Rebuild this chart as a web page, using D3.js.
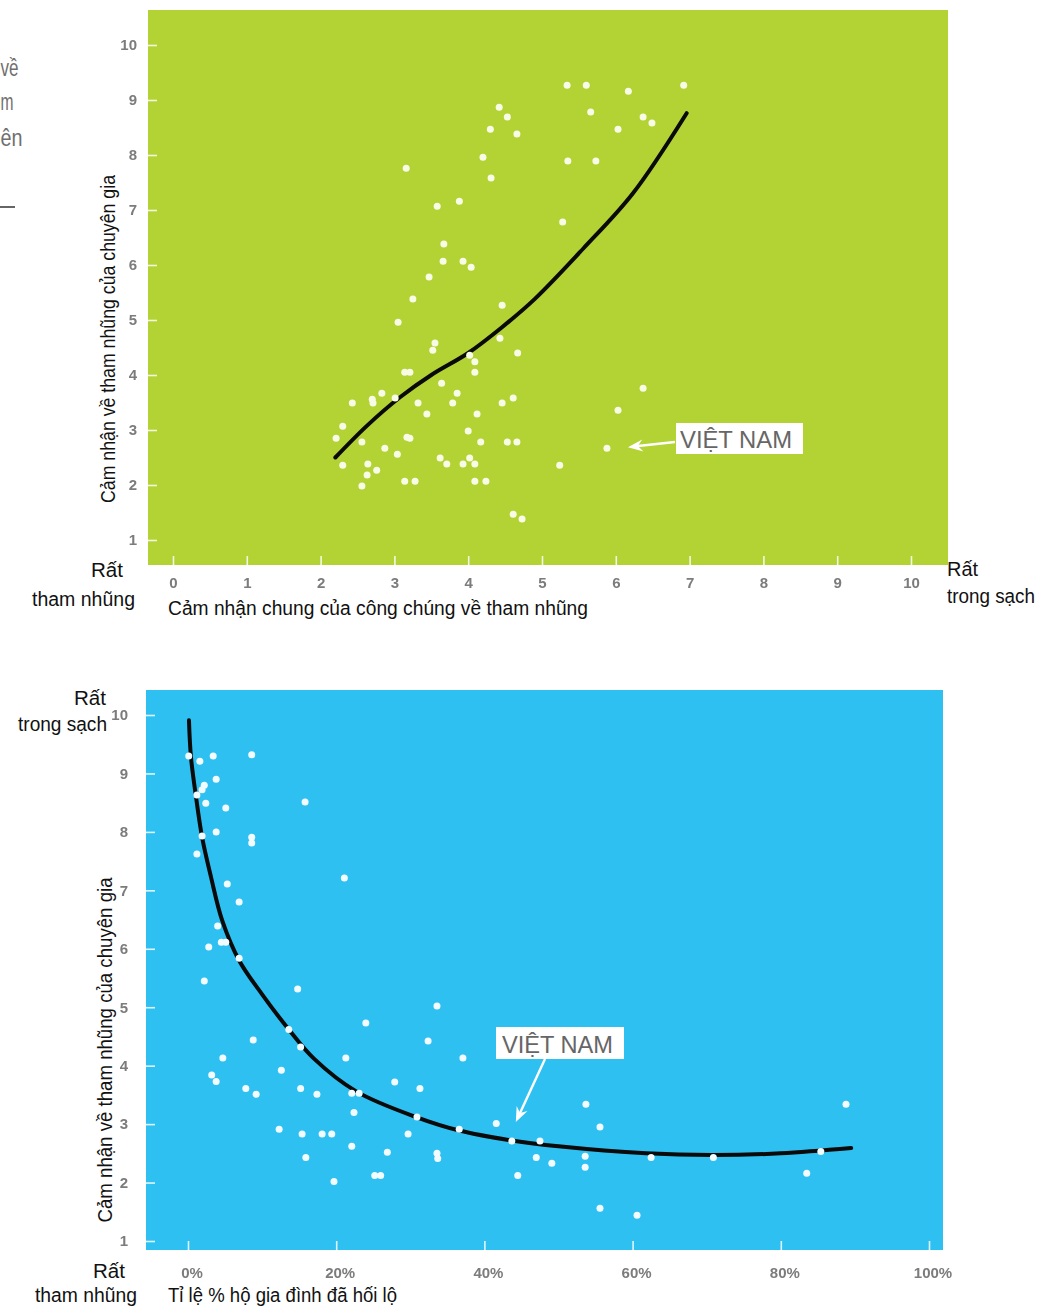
<!DOCTYPE html>
<html>
<head>
<meta charset="utf-8">
<script src="https://cdn.jsdelivr.net/npm/d3@7"></script>
<style>
  html, body { margin: 0; padding: 0; background: #fff; }
  svg { display: block; }
</style>
</head>
<body>
<svg id="chart" width="1058" height="1310"></svg>
<script>
// ---------- data ----------
// Panel 1: public perception of corruption (x) vs expert perception (y)
const perceptionTicks = [0, 1, 2, 3, 4, 5, 6, 7, 8, 9, 10];
const expertTicks = [1, 2, 3, 4, 5, 6, 7, 8, 9, 10];
const publicVsExpert = [
  [5.34, 9.27], [5.60, 9.27], [6.17, 9.16], [6.92, 9.27], [5.66, 8.78], [4.42, 8.87],
  [4.53, 8.69], [4.30, 8.47], [4.66, 8.38], [6.37, 8.69], [6.49, 8.58], [6.03, 8.47],
  [4.20, 7.96], [4.31, 7.58], [5.35, 7.89], [5.73, 7.89], [3.16, 7.76], [3.58, 7.07],
  [3.88, 7.16], [5.28, 6.78], [3.67, 6.38], [3.66, 6.07], [3.93, 6.07], [4.04, 5.96],
  [3.47, 5.78], [3.25, 5.38], [4.46, 5.27], [3.05, 4.96], [3.55, 4.58], [3.52, 4.45],
  [4.43, 4.67], [4.67, 4.40], [4.02, 4.36], [4.09, 4.24], [4.09, 4.05], [3.14, 4.05],
  [3.21, 4.05], [3.64, 3.85], [3.85, 3.67], [2.83, 3.67], [2.70, 3.56], [2.71, 3.49],
  [3.01, 3.58], [2.43, 3.49], [3.32, 3.49], [3.79, 3.49], [4.46, 3.49], [4.61, 3.58],
  [3.44, 3.29], [4.12, 3.29], [2.30, 3.07], [4.00, 2.98], [2.21, 2.85], [2.56, 2.78],
  [3.17, 2.87], [3.21, 2.85], [4.17, 2.78], [4.53, 2.78], [4.66, 2.78], [2.87, 2.67],
  [3.04, 2.56], [2.30, 2.36], [2.64, 2.38], [2.76, 2.27], [2.63, 2.18], [2.56, 1.98],
  [3.62, 2.49], [3.71, 2.38], [3.93, 2.38], [4.02, 2.49], [4.09, 2.38], [3.14, 2.07],
  [3.28, 2.07], [4.09, 2.07], [4.24, 2.07], [4.61, 1.47], [4.73, 1.38], [5.24, 2.36],
  [6.37, 3.76], [6.03, 3.36]
];
const vietnamPublic = [5.88, 2.67];
const publicFit = [
  [2.20, 2.50], [2.63, 3.08], [3.08, 3.60], [3.50, 4.00], [4.00, 4.40], [4.45, 4.86],
  [4.90, 5.38], [5.56, 6.30], [6.23, 7.30], [6.96, 8.76]
];

// Panel 2: share of households paying bribes (x, %) vs expert perception (y)
const bribeTicks = [0, 20, 40, 60, 80, 100];
const bribeVsExpert = [
  [0.1, 9.30], [1.6, 9.21], [3.4, 9.30], [8.6, 9.32], [3.8, 8.90], [2.2, 8.80],
  [1.9, 8.72], [1.2, 8.63], [2.4, 8.49], [5.1, 8.41], [15.8, 8.51], [3.8, 8.00],
  [1.9, 7.93], [8.6, 7.91], [8.6, 7.81], [1.2, 7.62], [21.1, 7.21], [5.3, 7.11],
  [6.9, 6.80], [4.0, 6.39], [4.5, 6.11], [5.1, 6.11], [2.8, 6.03], [6.9, 5.84],
  [2.2, 5.45], [14.8, 5.31], [33.6, 5.02], [24.0, 4.73], [13.6, 4.62], [15.2, 4.32],
  [8.8, 4.44], [32.4, 4.42], [4.7, 4.13], [21.3, 4.13], [37.1, 4.13], [12.6, 3.92],
  [3.2, 3.84], [3.8, 3.73], [7.8, 3.61], [9.2, 3.51], [15.2, 3.61], [17.4, 3.51],
  [22.1, 3.53], [23.1, 3.53], [27.9, 3.72], [31.3, 3.61], [22.4, 3.20], [30.9, 3.12],
  [36.6, 2.91], [41.6, 3.01], [12.3, 2.91], [15.4, 2.83], [18.1, 2.83], [19.4, 2.83],
  [29.7, 2.83], [22.1, 2.62], [26.9, 2.52], [33.6, 2.50], [33.7, 2.41], [15.9, 2.43],
  [25.2, 2.12], [26.0, 2.12], [19.7, 2.02], [53.7, 3.34], [55.6, 2.95], [88.8, 3.34],
  [47.5, 2.71], [47.0, 2.43], [49.1, 2.33], [53.6, 2.45], [53.6, 2.26], [62.5, 2.43],
  [70.9, 2.43], [85.4, 2.53], [44.5, 2.12], [83.5, 2.16], [55.6, 1.56], [60.6, 1.44]
];
const vietnamBribe = [43.7, 2.71];
const bribeFit = [
  [0.13, 9.91], [0.4, 9.28], [1.08, 8.60], [1.9, 7.91], [3.1, 7.23], [4.6, 6.49],
  [6.9, 5.80], [10.0, 5.22], [13.6, 4.62], [17.0, 4.12], [22.7, 3.56], [30.8, 3.12],
  [36.6, 2.89], [43.7, 2.72], [50.0, 2.62], [61.8, 2.50], [70.7, 2.47], [80.0, 2.50],
  [89.5, 2.59]
];

// ---------- text ----------
const sideText = ["về", "m", "ên"];
const expertTitle = "Cảm nhận về tham nhũng của chuyên gia";
const publicTitle = "Cảm nhận chung của công chúng về tham nhũng";
const bribeTitle = "Tỉ lệ % hộ gia đình đã hối lộ";
const veryCorrupt = ["Rất", "tham nhũng"];
const veryClean = ["Rất", "trong sạch"];
const vietnamLabel = "VIỆT NAM";

// ---------- drawing ----------
const svg = d3.select("#chart");
const FONT = "'Liberation Sans', Arial, sans-serif";

const defs = svg.append("defs");
defs.append("filter").attr("id", "soft")
  .attr("x", "-20%").attr("y", "-20%").attr("width", "140%").attr("height", "140%")
  .append("feGaussianBlur").attr("stdDeviation", 0.55);

function label(g, str, x, y, len, opts = {}) {
  const t = g.append("text")
    .attr("x", x).attr("y", y)
    .attr("fill", opts.fill || "#111")
    .attr("text-anchor", opts.anchor || "start")
    .style("font-family", FONT)
    .style("font-size", (opts.size || 20) + "px")
    .text(str);
  if (len) t.attr("textLength", len).attr("lengthAdjust", "spacingAndGlyphs");
  if (opts.transform) t.attr("transform", opts.transform);
  return t;
}

function arrow(g, x1, y1, x2, y2) {
  const a = Math.atan2(y2 - y1, x2 - x1);
  const c = Math.cos(a), s = Math.sin(a);
  const L = 15, W = 6, notch = 10;
  g.append("line")
    .attr("x1", x1).attr("y1", y1)
    .attr("x2", x2 - notch * c).attr("y2", y2 - notch * s)
    .attr("stroke", "#fff").attr("stroke-width", 2.4);
  const pts = [
    [x2, y2],
    [x2 - L * c + W * s, y2 - L * s - W * c],
    [x2 - notch * c, y2 - notch * s],
    [x2 - L * c - W * s, y2 - L * s + W * c]
  ];
  g.append("polygon").attr("points", pts.map(p => p.join(",")).join(" ")).attr("fill", "#fff");
}

function panel(cfg) {
  const g = svg.append("g");
  const x = d3.scaleLinear().domain(cfg.xDomain).range(cfg.xRange);
  const y = d3.scaleLinear().domain([1, 10]).range(cfg.yRange);

  g.append("rect")
    .attr("x", cfg.box[0]).attr("y", cfg.box[1])
    .attr("width", cfg.box[2] - cfg.box[0]).attr("height", cfg.box[3] - cfg.box[1])
    .attr("fill", cfg.bg);

  // axes: white ticks pointing into the plot, grey labels outside
  const gx = g.append("g")
    .attr("transform", `translate(0,${cfg.box[3]})`)
    .call(d3.axisBottom(x).tickValues(cfg.xTicks).tickSizeInner(-9).tickSizeOuter(0)
      .tickPadding(cfg.xPad).tickFormat(cfg.xFormat));
  const gy = g.append("g")
    .attr("transform", `translate(${cfg.box[0]},0)`)
    .call(d3.axisLeft(y).tickValues(expertTicks).tickSizeInner(-9).tickSizeOuter(0)
      .tickPadding(cfg.yPad).tickFormat(d3.format("d")));
  [gx, gy].forEach(ax => {
    ax.select(".domain").remove();
    ax.selectAll(".tick line").attr("stroke", "#fff").attr("stroke-width", 1.6).attr("opacity", 0.85);
    ax.selectAll(".tick text")
      .attr("fill", "#7b7b7b")
      .style("font-family", FONT).style("font-weight", "bold").style("font-size", "15px")
      .attr("filter", "url(#soft)");
  });
  gx.selectAll(".tick text").attr("dx", cfg.xLabelShift);

  // fitted curve
  g.append("path")
    .datum(cfg.fit)
    .attr("d", d3.line().x(d => x(d[0])).y(d => y(d[1])).curve(d3.curveCatmullRom.alpha(0.5)))
    .attr("fill", "none").attr("stroke", "#0a0a0a")
    .attr("stroke-width", 4).attr("stroke-linecap", "round");

  // countries
  g.append("g").selectAll("circle")
    .data(cfg.points.concat([cfg.vn]))
    .join("circle")
    .attr("cx", d => x(d[0])).attr("cy", d => y(d[1]))
    .attr("r", 3.5).attr("fill", cfg.dot);

  // highlighted country
  const vx = x(cfg.vn[0]), vy = y(cfg.vn[1]);
  const b = cfg.vnBox;
  g.append("rect").attr("x", b[0]).attr("y", b[1]).attr("width", b[2]).attr("height", b[3]).attr("fill", "#fff");
  label(g, vietnamLabel, b[0] + cfg.vnText[0], b[1] + cfg.vnText[1], cfg.vnText[2], { fill: "#666", size: 24 });
  arrow(g, cfg.vnTail[0], cfg.vnTail[1], vx + cfg.vnTip[0], vy + cfg.vnTip[1]);

  return { g, x, y };
}

// left column fragments
sideText.forEach((t, i) => {
  label(svg, t, 0.5, [76, 110, 146][i], [18, 13, 22][i], { fill: "#6f6f6f", size: 23 });
});
svg.append("line").attr("x1", 0).attr("x2", 15).attr("y1", 207).attr("y2", 207)
  .attr("stroke", "#333").attr("stroke-width", 1.5);

// panel 1
panel({
  box: [148, 10, 948, 565],
  bg: "#b3d234",
  dot: "#f8fce6",
  xDomain: [0, 10], xRange: [173, 911],
  yRange: [540, 45],
  xTicks: perceptionTicks, xFormat: d3.format("d"),
  xPad: 12, yPad: 11, xLabelShift: 0,
  points: publicVsExpert, fit: publicFit, vn: vietnamPublic,
  vnBox: [676, 423, 127, 31], vnText: [4, 25, 112],
  vnTail: [675, 442], vnTip: [21, -1]
});
label(svg, veryCorrupt[0], 91, 577, 32);
label(svg, veryCorrupt[1], 32, 606, 103);
label(svg, veryClean[0], 947, 576, 31);
label(svg, veryClean[1], 947, 603, 88);
label(svg, publicTitle, 168, 615, 420);
label(svg, expertTitle, 0, 0, 328, { anchor: "middle", transform: "translate(115,339) rotate(-90)" });

// panel 2
panel({
  box: [146, 690, 943, 1250],
  bg: "#2ec0f1",
  dot: "#f2fbff",
  xDomain: [0, 100], xRange: [188, 929],
  yRange: [1241, 715],
  xTicks: bribeTicks, xFormat: d => d + "%",
  xPad: 17, yPad: 18, xLabelShift: 3.5,
  points: bribeVsExpert, fit: bribeFit, vn: vietnamBribe,
  vnBox: [496, 1027, 128, 32], vnText: [6, 26, 111],
  vnTail: [545, 1059], vnTip: [4, -19]
});
label(svg, veryClean[0], 74, 705, 32);
label(svg, veryClean[1], 18, 731, 89);
label(svg, veryCorrupt[0], 93, 1278, 32);
label(svg, veryCorrupt[1], 35, 1302, 102);
label(svg, bribeTitle, 168, 1302, 229);
label(svg, expertTitle, 0, 0, 345, { anchor: "middle", transform: "translate(112,1050) rotate(-90)" });
</script>
</body>
</html>
